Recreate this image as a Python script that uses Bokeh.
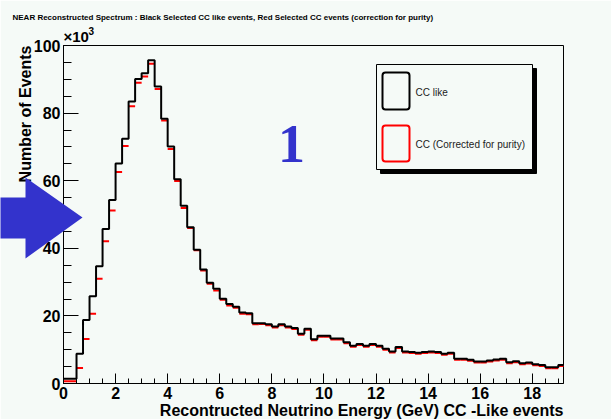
import math
import numpy as np
from bokeh.plotting import figure
from bokeh.models import FixedTicker, Range1d
from bokeh.core.properties import value
from bokeh.embed import file_html
from bokeh.resources import INLINE

# ---------------- data (thousands of events per 0.25 GeV bin) ----------------
bin_width = 0.25
cc_like = [1.4, 1.4, 8.8, 18.8, 25.8, 34.7, 45.7, 54.3, 65.1, 72.4,
           83.4, 90.1, 91.8, 95.6, 87.9, 78.3, 70.1, 60.4, 52.6, 46.2,
           39.6, 33.7, 29.8, 28.0, 25.1, 23.5, 22.7, 21.0, 20.8, 17.8,
           17.8, 17.5, 16.9, 17.5, 16.9, 16.4, 14.7, 16.2, 13.1, 14.1,
           14.1, 13.3, 13.3, 12.2, 11.2, 11.7, 11.2, 11.7, 11.2, 10.3,
           9.5, 10.8, 9.5, 9.3, 9.1, 9.3, 9.5, 9.3, 8.8, 9.1,
           7.3, 7.3, 7.0, 6.5, 6.5, 6.8, 7.1, 7.3, 6.3, 6.6,
           6.0, 6.2, 5.7, 5.5, 4.8, 4.8, 5.5]
cc_corrected = [0.7, 0.7, 4.6, 13.2, 20.6, 31.0, 42.1, 51.2, 62.6, 70.3,
                82.0, 89.0, 90.8, 94.6, 87.1, 77.8, 69.4, 59.9, 51.9, 46.0,
                39.4, 33.4, 29.5, 27.5, 24.8, 23.1, 22.4, 20.6, 20.5, 17.5,
                17.6, 17.2, 16.6, 17.2, 16.6, 16.1, 14.4, 15.9, 12.8, 13.8,
                13.8, 13.0, 13.0, 11.9, 10.9, 11.4, 10.9, 11.4, 10.9, 10.0,
                9.2, 10.5, 9.2, 9.0, 8.8, 9.0, 9.2, 9.0, 8.5, 8.8,
                7.0, 7.0, 6.7, 6.2, 6.2, 6.5, 6.8, 7.0, 6.0, 6.3,
                5.7, 5.9, 5.4, 5.2, 4.5, 4.5, 5.2]
x_ticks = [0, 2, 4, 6, 8, 10, 12, 14, 16, 18]
y_ticks = [0, 20, 40, 60, 80, 100]
title_text = ("NEAR Reconstructed Spectrum : Black Selected CC like events, "
              "Red Selected CC events (correction for purity)")
x_title = "Recontructed Neutrino Energy (GeV) CC -Like events"
y_title = "Number of Events"
legend_labels = ["CC like", "CC (Corrected for purity)"]
panel_number = "1"

# ---------------- geometry / style ----------------
W, H = 611, 419
FL, FR, FT, FB = 63, 563, 45, 383
X_MAX, Y_MAX = 19.2, 100.0
BG = "#f5faf7"
BLUE = "#3333cc"
FONT = "Liberation Sans"


def sx(px):
    return (px - FL) / (FR - FL) * X_MAX


def sy(py):
    return (FB - py) / (FB - FT) * Y_MAX


n = len(cc_like)
bin_lo = [i * bin_width for i in range(n)]
bin_hi = [b + bin_width for b in bin_lo]

p = figure(width=W, height=H, x_range=Range1d(0, X_MAX), y_range=Range1d(0, Y_MAX),
           min_border_left=FL, min_border_right=W - FR, min_border_top=FT,
           min_border_bottom=H - FB, toolbar_location=None, output_backend="svg",
           title=None)
p.background_fill_color = BG
p.border_fill_color = BG
p.outline_line_color = "black"
p.outline_line_width = 1
p.xgrid.visible = False
p.ygrid.visible = False

p.xaxis.ticker = FixedTicker(ticks=x_ticks, minor_ticks=[i * 0.5 for i in range(39)])
p.yaxis.ticker = FixedTicker(ticks=y_ticks, minor_ticks=[i * 5 for i in range(21)])
for ax in (p.xaxis, p.yaxis):
    ax.axis_line_color = "black"
    ax.major_tick_line_color = "black"
    ax.minor_tick_line_color = "black"
    ax.major_tick_out = 0
    ax.minor_tick_out = 0
    ax.major_label_text_font = FONT
    ax.major_label_text_font_style = "bold"
    ax.major_label_text_font_size = "16px"
    ax.major_label_text_color = "black"
p.xaxis.major_tick_in = 10
p.xaxis.minor_tick_in = 5
p.xaxis.major_label_standoff = 3
p.yaxis.major_tick_in = 15
p.yaxis.minor_tick_in = 8
p.yaxis.major_label_standoff = 3

# histograms
p.segment(x0=bin_lo, x1=bin_hi, y0=cc_corrected, y1=cc_corrected,
          line_color="red", line_width=2)
p.step(x=bin_lo + [bin_hi[-1]], y=cc_like + [cc_like[-1]], mode="after",
       line_color="black", line_width=2)

# legend (drawn like ROOT's TLegend)
p.quad(left=sx(380), right=sx(536), top=sy(68), bottom=sy(173),
       fill_color="black", line_color="black")
p.quad(left=sx(376), right=sx(532), top=sy(64), bottom=sy(169),
       fill_color=BG, line_color="black", line_width=1)
p.quad(left=sx(382), right=sx(409), top=sy(72), bottom=sy(109),
       fill_alpha=0, line_color="black", line_width=2, border_radius=3)
p.quad(left=sx(382), right=sx(409), top=sy(125), bottom=sy(161),
       fill_alpha=0, line_color="red", line_width=2, border_radius=3)
p.text(x=[sx(415), sx(415)], y=[sy(92), sy(144)], text=legend_labels,
       text_font=value(FONT), text_font_size="10px", text_baseline="middle",
       text_align="left", text_color="#222222")

# big blue panel number
p.text(x=[sx(291)], y=[sy(143)], text=[panel_number], text_font=value("Liberation Serif"),
       text_font_style="bold", text_font_size="54px", text_baseline="alphabetic",
       text_align="center", text_color=BLUE)

# texts outside the frame (overlay level so they are not clipped)
p.text(x=[sx(12)], y=[sy(17)], text=[title_text], text_font=value(FONT),
       text_font_style="bold", text_font_size="8px", text_baseline="middle",
       text_align="left", text_color="black", level="overlay")
p.text(x=[sx(563)], y=[sy(410)], text=[x_title], text_font=value(FONT),
       text_font_style="bold", text_font_size="16px", text_baseline="middle",
       text_align="right", text_color="black", level="overlay")
p.text(x=[sx(25)], y=[sy(45)], text=[y_title], angle=math.pi / 2, text_font=value(FONT),
       text_font_style="bold", text_font_size="16px", text_baseline="middle",
       text_align="right", text_color="black", level="overlay")
p.text(x=[sx(63)], y=[sy(36)], text=["\u00d710"], text_font=value(FONT),
       text_font_style="bold", text_font_size="15px", text_baseline="middle",
       text_align="left", text_color="black", level="overlay")
p.text(x=[sx(88)], y=[sy(30)], text=["3"], text_font=value(FONT),
       text_font_style="bold", text_font_size="10px", text_baseline="middle",
       text_align="left", text_color="black", level="overlay")

# blue arrow
arrow_px = [(0, 197), (25, 197), (25, 177), (82, 217), (25, 258), (25, 238), (0, 238)]
p.patch(x=[sx(a) for a, _ in arrow_px], y=[sy(b) for _, b in arrow_px],
        fill_color=BLUE, fill_alpha=1.0, line_alpha=0, level="overlay")

open("out.html", "w").write(file_html(p, INLINE))
